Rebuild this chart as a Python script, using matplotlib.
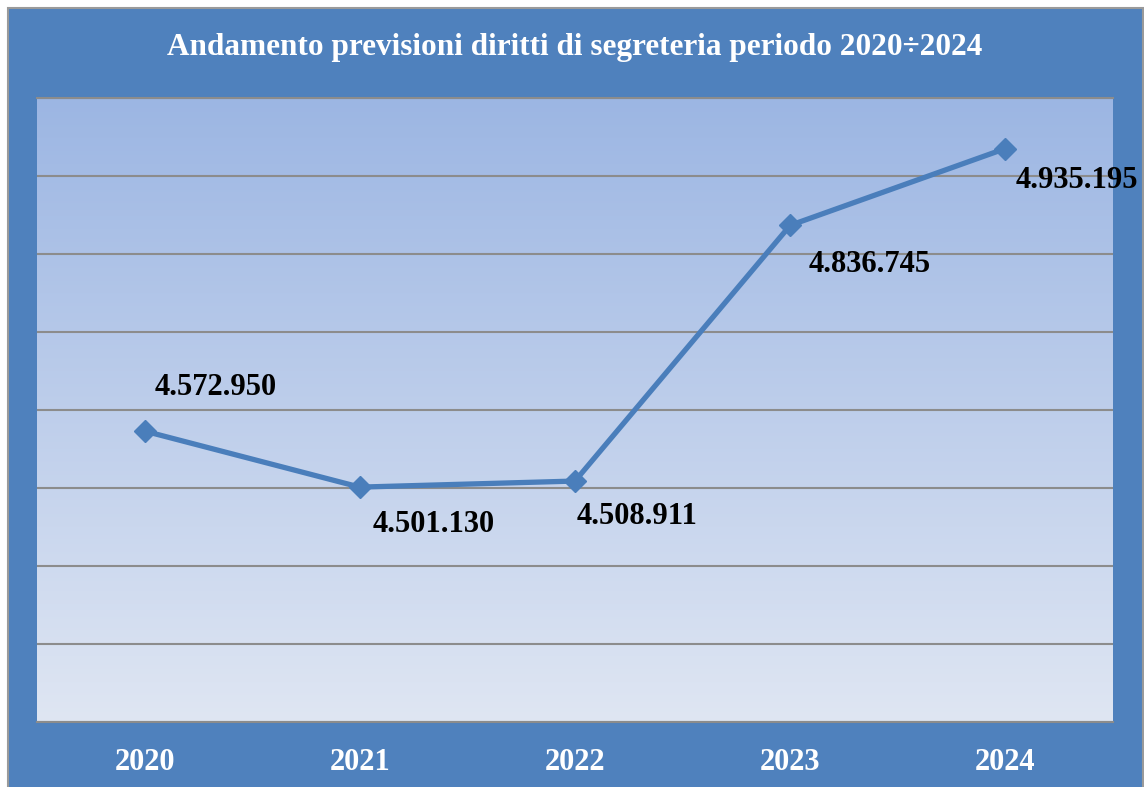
import numpy as np
import matplotlib
matplotlib.use("Agg")
import matplotlib.pyplot as plt
from matplotlib.patches import Rectangle
from matplotlib.colors import LinearSegmentedColormap

# === Dati ===
anni = ["2020", "2021", "2022", "2023", "2024"]
previsioni = [4572950, 4501130, 4508911, 4836745, 4935195]
etichette = ["4.572.950", "4.501.130", "4.508.911", "4.836.745", "4.935.195"]
titolo = "Andamento previsioni diritti di segreteria periodo 2020\u00f72024"

# spostamento etichette (pixel) rispetto al marker: (dx bordo sinistro, dy centro)
offset_px = [(10, 44), (13, -37), (2, -35), (18, -39), (10, -32)]

W, H = 1144, 787
FONT = "Liberation Serif"
BLU = "#4F81BD"

fig = plt.figure(figsize=(W / 100, H / 100), dpi=100)
fig.patch.set_facecolor("white")

# cornice blu del grafico
fig.patches.append(Rectangle((8 / W, -0.01), (W - 9) / W, (H - 8) / H + 0.01,
                             transform=fig.transFigure, facecolor=BLU,
                             edgecolor="#9a9a9a", linewidth=1.5, zorder=0))

ax = fig.add_axes([37 / W, (H - 722) / H, 1076 / W, 624 / H])
ax.set_zorder(2)

x = np.arange(len(anni))
ax.set_xlim(-0.5, len(anni) - 0.5)
ax.set_ylim(4200000, 5000000)

# sfondo sfumato
cmap = LinearSegmentedColormap.from_list("sf", ["#DFE6F3", "#9CB6E3"])
grad = np.linspace(0, 1, 256).reshape(-1, 1)
ax.imshow(grad, extent=(-0.5, len(anni) - 0.5, 4200000, 5000000), origin="lower",
          aspect="auto", cmap=cmap, zorder=0)

ax.set_yticks(np.arange(4200000, 5000001, 100000))
ax.yaxis.grid(True, color="#8c8c8c", linewidth=1.5)
ax.set_axisbelow(True)
ax.tick_params(axis="y", left=False, labelleft=False)
ax.tick_params(axis="x", bottom=False, pad=15)
ax.set_xticks(x)
ax.set_xticklabels(anni, fontfamily=FONT, fontweight="bold", fontsize=22, color="white")
for s in ["left", "right"]:
    ax.spines[s].set_visible(False)
for s in ["top", "bottom"]:
    ax.spines[s].set_color("#8c8c8c")
    ax.spines[s].set_linewidth(1.5)

ax.plot(x, previsioni, color="#4A7EBB", linewidth=3.8, marker="D", markersize=11,
        markeredgecolor="#4A7EBB", zorder=3, solid_capstyle="round")

for xi, yi, lab, (dx, dy) in zip(x, previsioni, etichette, offset_px):
    ax.annotate(lab, (xi, yi), xytext=(dx * 0.72, dy * 0.72), textcoords="offset points",
                ha="left", va="center", fontfamily=FONT, fontweight="bold",
                fontsize=22, color="black", zorder=4, annotation_clip=False)

fig.text(575 / W, 1 - 47 / H, titolo, ha="center", va="center", fontfamily=FONT,
         fontweight="bold", fontsize=22.5, color="white")

fig.savefig("out.png", dpi=100)
